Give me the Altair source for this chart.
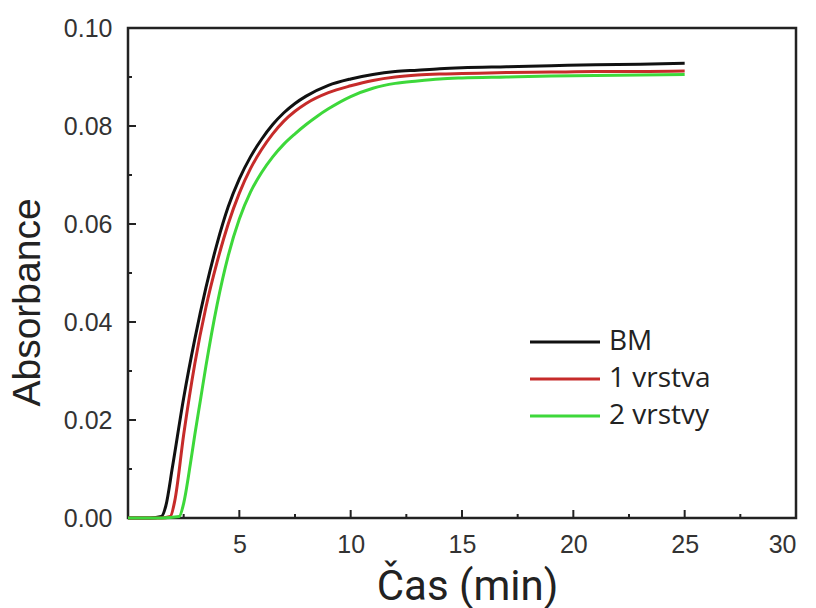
import altair as alt
import pandas as pd

series_names = ["BM", "1 vrstva", "2 vrstvy"]
series_colors = ["#111111", "#c62b2a", "#3dd83a"]

bm_time = [0, 1.0, 1.5, 1.7, 2.0, 2.5, 3.0, 3.5, 4.0, 4.5, 5.0, 5.5, 6.0, 6.5, 7.0, 7.5,
           8.0, 9.0, 10.0, 11.0, 12.0, 13.0, 14.0, 15.0, 17.0, 19.0, 21.0, 23.0, 25.0]
bm_abs = [0, 0, 0.0003, 0.0025, 0.0105, 0.0245, 0.0365, 0.047, 0.056, 0.0635, 0.0692, 0.0737,
          0.0773, 0.0803, 0.0827, 0.0846, 0.0861, 0.0883, 0.0896, 0.0905, 0.0911, 0.0914,
          0.0917, 0.0919, 0.0921, 0.0923, 0.0925, 0.0926, 0.0928]

v1_time = [0, 1.5, 1.9, 2.1, 2.5, 3.0, 3.5, 4.0, 4.5, 5.0, 5.5, 6.0, 6.5, 7.0, 7.5, 8.0,
           9.0, 10.0, 11.0, 12.0, 13.0, 14.0, 15.0, 17.0, 19.0, 21.0, 23.0, 25.0]
v1_abs = [0, 0, 0.0003, 0.0035, 0.017, 0.0315, 0.043, 0.0522, 0.0600, 0.0663, 0.0713, 0.0752,
          0.0784, 0.0810, 0.0830, 0.0846, 0.0868, 0.0882, 0.0893, 0.0900, 0.0904, 0.0906,
          0.0907, 0.0909, 0.0910, 0.0911, 0.0911, 0.0912]

v2_time = [0, 1.5, 2.3, 2.5, 2.8, 3.0, 3.25, 3.5, 4.0, 4.5, 5.0, 5.5, 6.0, 6.5, 7.0, 7.5,
           8.0, 8.5, 9.0, 10.0, 11.0, 12.0, 13.0, 14.0, 15.0, 17.0, 19.0, 21.0, 23.0, 25.0]
v2_abs = [0, 0, 0.0003, 0.003, 0.011, 0.017, 0.024, 0.031, 0.0435, 0.0535, 0.0610, 0.0665,
          0.0705, 0.0737, 0.0763, 0.0784, 0.0803, 0.0820, 0.0835, 0.0860, 0.0877, 0.0887,
          0.0892, 0.0896, 0.0898, 0.0900, 0.0902, 0.0903, 0.0904, 0.0905]

x_label_values = [5, 10, 15, 20, 25, 30]
y_label_values = [0.00, 0.02, 0.04, 0.06, 0.08, 0.10]
x_major_ticks = [5, 10, 15, 20, 25]
x_minor_ticks = [2.5, 7.5, 12.5, 17.5, 22.5, 27.5]
y_major_ticks = [0.02, 0.04, 0.06, 0.08]
y_minor_ticks = [0.01, 0.03, 0.05, 0.07, 0.09]

rows = []
for name, ts, vs in [(series_names[0], bm_time, bm_abs),
                     (series_names[1], v1_time, v1_abs),
                     (series_names[2], v2_time, v2_abs)]:
    for t, v in zip(ts, vs):
        rows.append({"series": name, "time": t, "absorbance": v})
df = pd.DataFrame(rows)

W, H = 668, 490
x_scale = alt.Scale(domain=[0, 30], nice=False, zero=False)
y_scale = alt.Scale(domain=[0, 0.1], nice=False)

x_axis = alt.Axis(values=x_label_values, title="Čas (min)", grid=False, domain=False,
                  ticks=False, labelPadding=14, labelFont="Liberation Sans",
                  labelFontSize=25, labelColor="#333333", titleFont="Roboto",
                  titleFontSize=42, titleFontWeight="normal", titleColor="#222222",
                  titlePadding=9, titleX=339)
y_axis = alt.Axis(values=y_label_values, format=".2f", title="Absorbance", grid=False,
                  domain=False, ticks=False, labelPadding=16,
                  labelFont="Liberation Sans", labelFontSize=25,
                  labelColor="#333333", titleFont="Liberation Sans",
                  titleFontSize=39, titleFontWeight="normal", titleColor="#222222",
                  titlePadding=16, titleY=274)

lines = alt.Chart(df).mark_line(strokeWidth=3, interpolate="monotone").encode(
    x=alt.X("time:Q", scale=x_scale, axis=x_axis),
    y=alt.Y("absorbance:Q", scale=y_scale, axis=y_axis),
    color=alt.Color("series:N", scale=alt.Scale(domain=series_names, range=series_colors),
                    sort=series_names,
                    legend=alt.Legend(orient="none", legendX=423, legendY=300, title=None,
                                      symbolType="M-3.5,0H3.5", symbolSize=400,
                                      symbolStrokeWidth=3, labelFont="Open Sans",
                                      labelFontSize=28, labelColor="#222222", labelOffset=30,
                                      rowPadding=9, padding=0)),
)

def tick_layer(values, length, axis_is_x):
    if axis_is_x:
        d = pd.DataFrame({"time": values})
        return alt.Chart(d).mark_rule(color="#222222", strokeWidth=2).encode(
            x=alt.X("time:Q", scale=x_scale, axis=x_axis),
            y=alt.value(H), y2=alt.value(H - length))
    d = pd.DataFrame({"absorbance": values})
    return alt.Chart(d).mark_rule(color="#222222", strokeWidth=2).encode(
        y=alt.Y("absorbance:Q", scale=y_scale, axis=y_axis),
        x=alt.value(0), x2=alt.value(length))

chart = alt.layer(
    lines,
    tick_layer(x_major_ticks, 8, True),
    tick_layer(x_minor_ticks, 4, True),
    tick_layer(y_major_ticks, 8, False),
    tick_layer(y_minor_ticks, 4, False),
).properties(
    width=W, height=H,
    autosize=alt.AutoSizeParams(type="none"),
    padding={"left": 128, "top": 28, "right": 20, "bottom": 90},
    background="white",
).configure_view(stroke="#222222", strokeWidth=2.5)

chart.save("out.html", embed_options={"renderer": "svg", "actions": False})
